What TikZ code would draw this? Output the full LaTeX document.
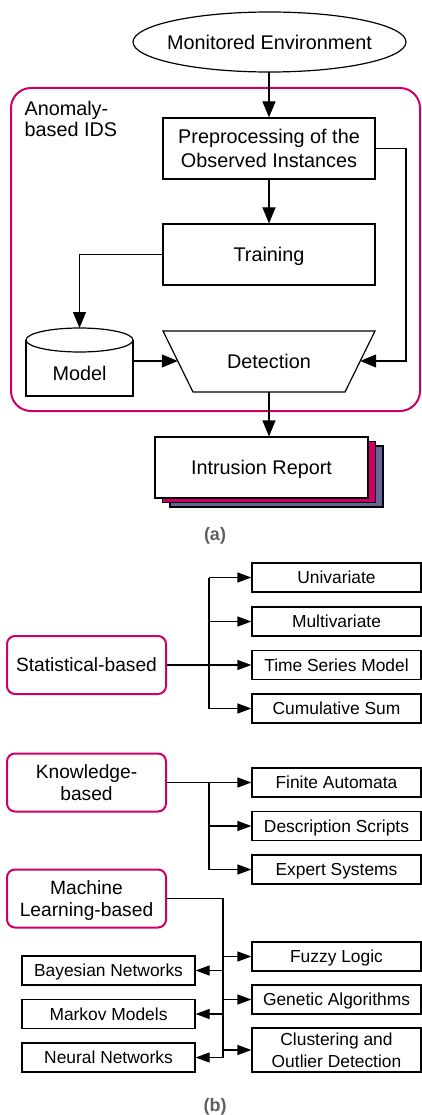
\documentclass[tikz,border=0pt]{standalone}
\usepackage{fontspec}
\setmainfont{Liberation Sans}
\usetikzlibrary{arrows.meta}
\definecolor{pk}{RGB}{204,0,102}
\definecolor{bl}{RGB}{102,102,153}
\definecolor{gr}{RGB}{95,95,95}
\begin{document}
\begin{tikzpicture}[x=1pt,y=-1pt,line width=1.2pt,
  big/.style={font=\fontsize{19.8}{24}\selectfont,text height=14.2pt,text depth=0pt},
  sm/.style={font=\fontsize{17.4}{21.7}\selectfont,text height=12.5pt,text depth=0pt},
  box/.style={draw,rectangle,inner sep=0pt,align=center,big,minimum width=212pt,minimum height=61pt},
  arr/.style={-{Triangle[length=16pt,width=13pt]}},
  sarr/.style={-{Triangle[length=14pt,width=10pt]}},
  cat/.style={draw=pk,line width=2pt,rounded corners=8pt,rectangle,inner sep=0pt,minimum width=159pt,minimum height=58pt,align=center,font=\fontsize{19.2}{22.5}\selectfont,text height=13.75pt,text depth=0pt},
  rbox/.style={draw,rectangle,inner sep=0pt,align=center,sm,minimum width=169pt,minimum height=29pt},
  lbox/.style={draw,rectangle,inner sep=0pt,align=center,sm,minimum width=173pt,minimum height=29pt},
  capt/.style={font=\fontsize{18}{20}\selectfont\bfseries,text=gr}
]
\useasboundingbox (0,0) rectangle (422,1115);
% ---------- (a) ----------
\draw (269.5,42) ellipse [x radius=136.5, y radius=30];
\node[big,inner sep=0pt] (env) at (269.5,42) {Monitored Environment};
\coordinate (envS) at (269,72);
\node[draw=pk,line width=2pt,rounded corners=20pt,rectangle,inner sep=0pt,minimum width=409pt,minimum height=323pt] (ids) at (215.5,249.5) {};
\node[big,font=\fontsize{19.8}{21.7}\selectfont,align=left,anchor=north west,inner sep=0pt,text height=35.9pt] (idsl) at (24,100.5) {Anomaly-\\based IDS};
\node[box,text height=38.2pt] (pre) at (269,148.5) {Preprocessing of the\\Observed Instances};
\node[box] (train) at (269,254.5) {Training};
% model cylinder
\draw (26,340) -- (26,396) -- (133,396) -- (133,340);
\draw (79.5,340) ellipse [x radius=53.5, y radius=12];
\coordinate (mtop) at (79.5,328);
\coordinate (mR) at (133,361);
\node[big,inner sep=0pt] (model) at (79.5,373) {Model};
% detection trapezoid
\draw (163,331) -- (375,331) -- (345,392) -- (193,392) -- cycle;
\node[big,inner sep=0pt] (det) at (269,361) {Detection};
\coordinate (detL) at (177.8,361);
\coordinate (detR) at (360.2,361);
\coordinate (detB) at (269,392);
\coordinate (jr) at (406,361);
% report stack
\draw[fill=bl] (170,446) rectangle (383,507);
\draw[fill=pk] (162.5,441.5) rectangle (375.5,502.5);
\node[draw,fill=white,rectangle,inner sep=0pt,minimum width=213pt,minimum height=61pt,big] (rep) at (261.5,467.5) {Intrusion Report};
\node[capt] (capa) at (215,536) {(a)};
% arrows
\draw[arr] (envS) -- (envS |- pre.north);
\draw[arr] (pre) -- (train);
\draw[arr] (train.west) -| (mtop);
\draw[arr] (mR) -- (detL);
\draw[arr] (pre.east) -| (jr) -- (detR);
\draw[arr] (detB) -- (detB |- rep.north);
% ---------- (b) ----------
\node[cat] (stat) at (86.5,665) {Statistical-based};
\node[rbox] (u) at (336.5,577.5) {Univariate};
\node[rbox] (mv) at (336.5,621.5) {Multivariate};
\node[rbox] (ts) at (336.5,665) {Time Series Model};
\node[rbox] (cs) at (336.5,708.5) {Cumulative Sum};
\coordinate (sj) at (209,665);
\draw (sj |- u) -- (sj |- cs);
\draw[sarr] (stat.east) -- (ts.west);
\draw[sarr] (sj |- u) -- (u.west);
\draw[sarr] (sj |- mv) -- (mv.west);
\draw[sarr] (sj |- cs) -- (cs.west);

\node[cat,font=\fontsize{19.2}{22.7}\selectfont,text height=36.45pt] (know) at (86.5,782.5) {Knowledge-\\based};
\node[rbox] (fa) at (336.5,782.5) {Finite Automata};
\node[rbox] (ds) at (336.5,826) {Description Scripts};
\node[rbox] (es) at (336.5,869.5) {Expert Systems};
\coordinate (kj) at (209,782.5);
\draw (kj) -- (kj |- es);
\draw[sarr] (know.east) -- (fa.west);
\draw[sarr] (kj |- ds) -- (ds.west);
\draw[sarr] (kj |- es) -- (es.west);

\node[cat,font=\fontsize{19.2}{22.3}\selectfont,text height=36.05pt] (ml) at (86.5,898.5) {Machine\\Learning-based};
\node[rbox] (fl) at (336.5,956.5) {Fuzzy Logic};
\node[rbox] (ga) at (336.5,999.5) {Genetic Algorithms};
\node[rbox,minimum height=44pt,text height=34.2pt] (co) at (336.5,1050) {Clustering and\\Outlier Detection};
\node[lbox] (bn) at (108.5,970.5) {Bayesian Networks};
\node[lbox] (mm) at (108.5,1014) {Markov Models};
\node[lbox] (nn) at (108.5,1057.5) {Neural Networks};
\coordinate (mj) at (223,1057.5);
\draw (ml.east) -| (mj);
\draw[sarr] (mj |- fl) -- (fl.west);
\draw[sarr] (mj |- ga) -- (ga.west);
\draw[sarr] (mj |- co) -- (co.west);
\draw[sarr] (mj |- bn) -- (bn.east);
\draw[sarr] (mj |- mm) -- (mm.east);
\draw[sarr] (mj) -- (nn.east);
\node[capt] (capb) at (215,1107) {(b)};
\end{tikzpicture}
\end{document}
